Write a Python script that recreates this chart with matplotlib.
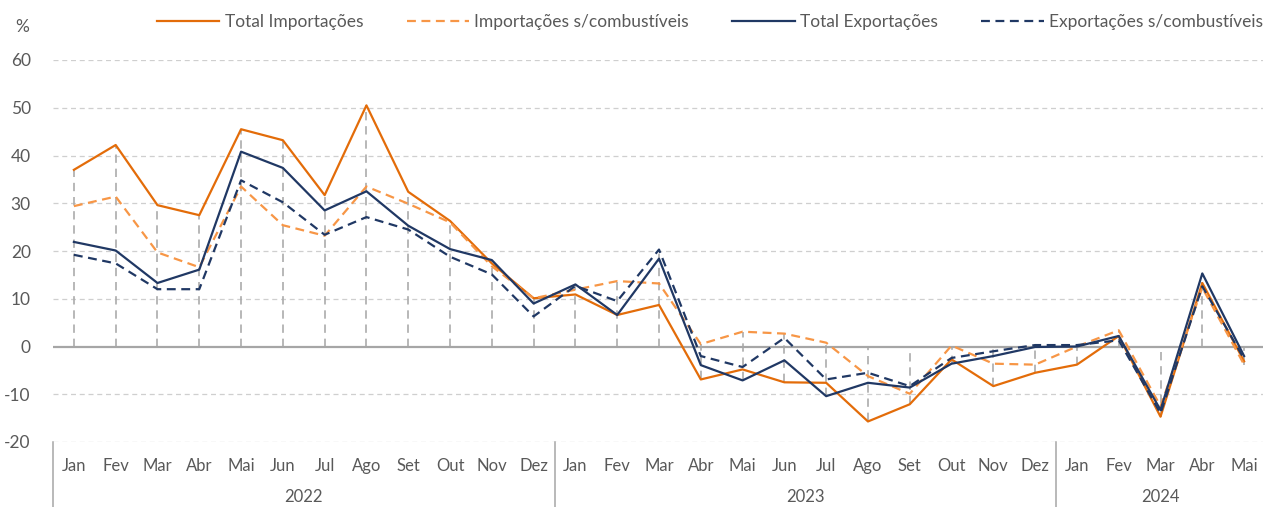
import matplotlib.pyplot as plt
import matplotlib.transforms as mtransforms
import numpy as np

plt.rcParams['font.family'] = ['Lato', 'DejaVu Sans']
plt.rcParams['axes.unicode_minus'] = False

meses = ['Jan', 'Fev', 'Mar', 'Abr', 'Mai', 'Jun', 'Jul', 'Ago', 'Set', 'Out', 'Nov', 'Dez',
         'Jan', 'Fev', 'Mar', 'Abr', 'Mai', 'Jun', 'Jul', 'Ago', 'Set', 'Out', 'Nov', 'Dez',
         'Jan', 'Fev', 'Mar', 'Abr', 'Mai']
anos = ['2022', '2023', '2024']
meses_por_ano = [12, 12, 5]

total_imp = [37.0, 42.2, 29.6, 27.5, 45.5, 43.2, 31.7, 50.5, 32.4, 26.3, 17.4, 10.1,
             10.9, 6.6, 8.7, -6.9, -4.8, -7.5, -7.6, -15.7, -12.1, -2.7, -8.3, -5.5,
             -3.8, 2.2, -14.7, 13.3, -3.1]
imp_sc = [29.4, 31.4, 19.7, 16.6, 33.5, 25.4, 23.2, 33.5, 29.9, 26.0, 16.8, 10.1,
          11.9, 13.7, 13.2, 0.5, 3.1, 2.7, 0.8, -6.2, -9.9, 0.2, -3.6, -3.8,
          0.0, 3.4, -12.5, 12.3, -3.8]
total_exp = [21.9, 20.1, 13.3, 16.1, 40.8, 37.4, 28.5, 32.5, 25.3, 20.4, 18.1, 9.0,
             13.0, 6.6, 18.4, -3.9, -7.1, -2.9, -10.4, -7.6, -8.6, -3.6, -2.0, -0.1,
             0.0, 2.2, -13.3, 15.3, -2.0]
exp_sc = [19.2, 17.4, 12.0, 12.0, 34.8, 30.2, 23.4, 27.1, 24.5, 18.8, 15.1, 6.3,
          12.7, 9.5, 20.3, -2.0, -4.3, 1.8, -6.9, -5.5, -8.3, -2.4, -1.0, 0.3,
          0.3, 1.3, -14.0, 12.6, -2.6]

cor_laranja = '#E36C09'
cor_laranja_claro = '#F79646'
cor_azul = '#203864'
cinza_txt = '#595959'

fig = plt.figure(figsize=(12.63, 5.07), dpi=100)
ax = fig.add_axes([53 / 1263, 1 - 442 / 507, (1265 - 53) / 1263, (442 - 60) / 507])

x = np.arange(len(meses))
series = np.array([total_imp, imp_sc, total_exp, exp_sc])

# linhas de queda (drop lines) ate o eixo zero
topo = np.maximum(series.max(axis=0), 0)
base = np.minimum(series.min(axis=0), 0)
ax.vlines(x, base, topo, colors='#ABABAB', linestyles=(0, (5, 3.5)), lw=1.2, zorder=1)

# grade horizontal
for yv in range(-20, 61, 10):
    if yv == 0:
        continue
    ax.axhline(yv, color='#CFCFCF', lw=0.9, ls=(0, (4, 3)), zorder=0)
ax.axhline(0, color='#A6A6A6', lw=1.6, zorder=1)

ax.plot(x, total_imp, color=cor_laranja, lw=1.6, label='Total Importações', zorder=3)
ax.plot(x, imp_sc, color=cor_laranja_claro, lw=1.6, ls=(0, (4, 2.5)),
        label='Importações s/combustíveis', zorder=3)
ax.plot(x, total_exp, color=cor_azul, lw=1.6, label='Total Exportações', zorder=4)
ax.plot(x, exp_sc, color=cor_azul, lw=1.6, ls=(0, (4, 2.5)),
        label='Exportações s/combustíveis', zorder=4)

ax.set_xlim(-0.5, len(meses) - 0.5)
ax.set_ylim(-20, 60)
ax.set_yticks(range(-20, 61, 10))
ax.tick_params(axis='y', length=0, pad=16, labelsize=12.5, labelcolor=cinza_txt)
ax.set_xticks([])
for s in ax.spines.values():
    s.set_visible(False)

# eixo de categorias (meses e anos)
trans = mtransforms.blended_transform_factory(ax.transData, ax.transAxes)
altura = 442 - 60
for i, m in enumerate(meses):
    ax.text(i, -24 / altura, m, transform=trans, ha='center', va='center',
            fontsize=12, color=cinza_txt)
inicio = 0
limites = [-0.5]
for ano, n in zip(anos, meses_por_ano):
    centro = inicio + (n - 1) / 2
    ax.text(centro, -55 / altura, ano, transform=trans, ha='center', va='center',
            fontsize=12, color=cinza_txt)
    inicio += n
    limites.append(inicio - 0.5)
for lx in limites[:-1]:
    ax.plot([lx, lx], [0, -70 / altura], transform=trans, color='#A6A6A6', lw=1.1,
            clip_on=False)

fig.text(22 / 1263, 1 - 27 / 507, '%', ha='center', va='center', fontsize=12.5, color=cinza_txt)

fig.legend(loc='center right', bbox_to_anchor=(1.0, 1 - 22 / 507), ncol=4, frameon=False,
           fontsize=12.5, handlelength=3.6, handletextpad=0.3, columnspacing=2.5,
           labelcolor=cinza_txt, borderaxespad=0.0, borderpad=0.0)

fig.savefig('out.png', dpi=100)
